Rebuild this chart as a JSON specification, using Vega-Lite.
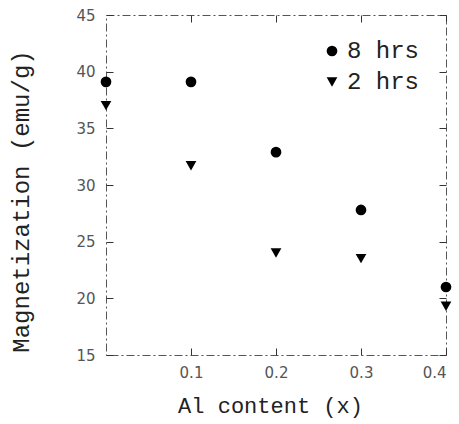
{
  "$schema": "https://vega.github.io/schema/vega-lite/v6.json",
  "width": 340,
  "height": 340,
  "autosize": {"type": "none"},
  "padding": {"left": 106, "top": 15, "right": 13, "bottom": 69},
  "background": "white",
  "config": {
    "view": {"stroke": "#555", "strokeWidth": 1, "strokeDash": [8, 3, 2, 3]},
    "font": "Liberation Mono"
  },
  "data": {
    "values": [
      {"x": 0.0, "m": 39.1, "time": "8 hrs"},
      {"x": 0.1, "m": 39.1, "time": "8 hrs"},
      {"x": 0.2, "m": 32.9, "time": "8 hrs"},
      {"x": 0.3, "m": 27.8, "time": "8 hrs"},
      {"x": 0.4, "m": 21.0, "time": "8 hrs"},
      {"x": 0.0, "m": 37.0, "time": "2 hrs"},
      {"x": 0.1, "m": 31.7, "time": "2 hrs"},
      {"x": 0.2, "m": 24.0, "time": "2 hrs"},
      {"x": 0.3, "m": 23.5, "time": "2 hrs"},
      {"x": 0.4, "m": 19.3, "time": "2 hrs"}
    ]
  },
  "layer": [
    {
      "mark": {"type": "point", "filled": true, "opacity": 1, "color": "black", "size": 115},
      "encoding": {
        "x": {
          "field": "x", "type": "quantitative",
          "scale": {"domain": [0, 0.4], "nice": false, "zero": false},
          "axis": {
            "orient": "bottom", "offset": -7, "domain": false, "title": "Al content (x)", "values": [0.1, 0.2, 0.3, 0.4],
            "format": ".1f", "grid": false, "tickSize": 7, "tickColor": "#333", "tickWidth": 1,
            "labelFont": "DejaVu Sans", "labelFontSize": 15, "labelColor": "#555", "labelPadding": 10,
            "titleFont": "Liberation Mono", "titleFontSize": 22, "titleFontWeight": "normal", "titleColor": "#222",
            "titleX": 164, "titleY": 57, "titleBaseline": "middle", "titleAlign": "center", "titleAnchor": null
          }
        },
        "y": {
          "field": "m", "type": "quantitative",
          "scale": {"domain": [15, 45], "nice": false, "zero": false},
          "axis": {
            "orient": "left", "offset": -7, "domain": false, "title": "Magnetization (emu/g)", "values": [15, 20, 25, 30, 35, 40, 45],
            "grid": false, "tickSize": 7, "tickColor": "#333", "tickWidth": 1,
            "labelFont": "DejaVu Sans", "labelFontSize": 15, "labelColor": "#555", "labelPadding": 11,
            "titleFont": "Liberation Mono", "titleFontSize": 24, "titleFontWeight": "normal", "titleColor": "#222",
            "titleX": -92, "titleY": 186, "titleBaseline": "middle", "titleAlign": "center", "titleAnchor": null, "titleAngle": -90
          }
        },
        "shape": {
          "field": "time", "type": "nominal",
          "scale": {"domain": ["8 hrs", "2 hrs"], "range": ["circle", "triangle-down"]},
          "legend": {
            "orient": "none", "legendX": 214, "legendY": 24, "title": null,
            "labelFont": "Liberation Mono", "labelFontSize": 24, "labelColor": "#222",
            "symbolFillColor": "black", "symbolStrokeColor": "black", "symbolSize": 115,
            "rowPadding": 7, "labelOffset": 3
          }
        }
      }
    },
    {
      "mark": {"type": "point", "opacity": 0},
      "encoding": {
        "x": {
          "field": "x", "type": "quantitative",
          "axis": {
            "orient": "top", "offset": -7, "domain": false, "title": null, "labels": false, "values": [0.1, 0.2, 0.3, 0.4],
            "grid": false, "tickSize": 7, "tickColor": "#333", "tickWidth": 1
          }
        },
        "y": {
          "field": "m", "type": "quantitative",
          "axis": {
            "orient": "right", "offset": -7, "domain": false, "title": null, "labels": false, "values": [15, 20, 25, 30, 35, 40, 45],
            "grid": false, "tickSize": 7, "tickColor": "#333", "tickWidth": 1
          }
        }
      }
    }
  ],
  "resolve": {"axis": {"x": "independent", "y": "independent"}}
}
